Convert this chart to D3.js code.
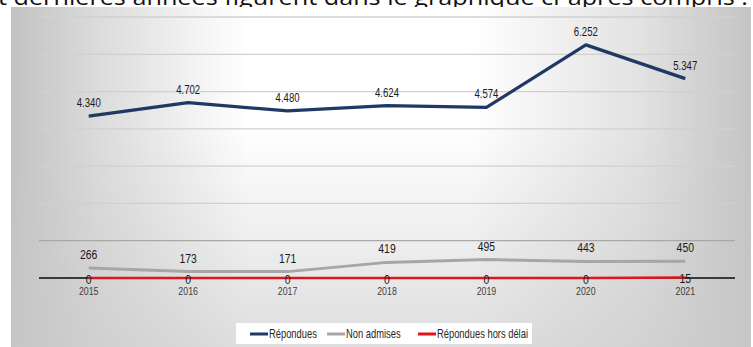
<!DOCTYPE html>
<html>
<head>
<meta charset="utf-8">
<script src="https://cdn.jsdelivr.net/npm/d3@7/dist/d3.min.js"></script>
<style>
  html, body { margin: 0; padding: 0; background: #fff; }
  svg { display: block; }
</style>
</head>
<body>
<svg id="chart" width="753" height="347"></svg>
<script>
// Demandes traitées par année
const years = ["2015", "2016", "2017", "2018", "2019", "2020", "2021"];
const repondues = [4340, 4702, 4480, 4624, 4574, 6252, 5347];
const nonAdmises = [266, 173, 171, 419, 495, 443, 450];
const horsDelai = [0, 0, 0, 0, 0, 0, 15];
const yTicks = [1000, 2000, 3000, 4000, 5000, 6000, 7000];
const seriesNames = ["Répondues", "Non admises", "Répondues hors délai"];
const seriesColors = ["#1f3864", "#a6a6a6", "#e0161b"];
const introText = "t dernières années figurent dans le graphique ci-après compris :";

const fmt = v => d3.format(",")(v).replace(/,/g, ".");
const font = "'Liberation Sans', Arial, sans-serif";
const squeeze = 0.8; // condensed look for chart labels

const svg = d3.select("#chart");

// Paragraph text above the chart panel
svg.append("text")
  .attr("x", -2).attr("y", 5)
  .attr("font-family", "'Open Sans', sans-serif")
  .attr("font-size", 21)
  .attr("fill", "#111")
  .attr("textLength", 750)
  .attr("lengthAdjust", "spacingAndGlyphs")
  .text(introText);

// Panel background: white centre, grey sides, greyer towards the bottom
const defs = svg.append("defs");
const hGrad = defs.append("linearGradient").attr("id", "bgH")
  .attr("x1", "0").attr("x2", "1").attr("y1", "0").attr("y2", "0");
[["0%", "#c2c2c2"], ["12%", "#dcdcdc"], ["32%", "#ffffff"], ["62%", "#ffffff"], ["85%", "#e2e2e2"], ["100%", "#c4c4c4"]]
  .forEach(([o, c]) => hGrad.append("stop").attr("offset", o).attr("stop-color", c));
const vGrad = defs.append("linearGradient").attr("id", "bgV")
  .attr("x1", "0").attr("x2", "0").attr("y1", "0").attr("y2", "1");
[["0%", "#c8c8c8", 0], ["35%", "#c8c8c8", 0], ["100%", "#c8c8c8", 0.6]]
  .forEach(([o, c, a]) => vGrad.append("stop").attr("offset", o).attr("stop-color", c).attr("stop-opacity", a));

svg.append("rect")
  .attr("x", 11).attr("y", 7)
  .attr("width", 740).attr("height", 340)
  .attr("fill", "url(#bgH)");
svg.append("rect")
  .attr("x", 11).attr("y", 7)
  .attr("width", 740).attr("height", 340)
  .attr("fill", "url(#bgV)");

const x = d3.scaleBand().domain(years).range([39, 735]);
const cx = d => x(d) + x.bandwidth() / 2;
const y = d3.scaleLinear().domain([0, 7000]).range([278, 17]);

// Horizontal gridlines
svg.append("g").selectAll("line")
  .data(yTicks)
  .join("line")
  .attr("x1", 39).attr("x2", 735)
  .attr("y1", d => y(d)).attr("y2", d => y(d))
  .attr("stroke", d => d === 1000 ? "#a8a8a8" : "#d0d0d0")
  .attr("stroke-width", 1.3);

// Category axis at zero
svg.append("line")
  .attr("x1", 39).attr("x2", 735)
  .attr("y1", y(0)).attr("y2", y(0))
  .attr("stroke", "#3a3a3a")
  .attr("stroke-width", 2);

svg.append("g").selectAll("text")
  .data(years)
  .join("text")
  .attr("transform", d => `translate(${cx(d)},295) scale(${squeeze},1)`)
  .attr("text-anchor", "middle")
  .attr("font-family", font)
  .attr("font-size", 11)
  .attr("fill", "#404040")
  .text(d => d);

const line = d3.line().x((d, i) => cx(years[i])).y(d => y(d));

const series = [repondues, nonAdmises, horsDelai];
const widths = [3.2, 3, 2.6];

// Lines, drawn back to front
[1, 2, 0].forEach(k => {
  svg.append("path")
    .datum(series[k])
    .attr("d", line)
    .attr("fill", "none")
    .attr("stroke", seriesColors[k])
    .attr("stroke-width", widths[k])
    .attr("stroke-linejoin", "round");
});

// Data labels
const labelOffsets = [-9, -9, 5.5];
series.forEach((vals, k) => {
  svg.append("g").selectAll("text")
    .data(vals)
    .join("text")
    .attr("transform", (d, i) => `translate(${cx(years[i])},${y(d) + labelOffsets[k]}) scale(${squeeze},1)`)
    .attr("text-anchor", "middle")
    .attr("font-family", font)
    .attr("font-size", k === 0 ? 12 : 13)
    .attr("fill", "#1a1a1a")
    .text(d => fmt(d));
});

// Legend
const legend = svg.append("g");
legend.append("rect")
  .attr("x", 236).attr("y", 323)
  .attr("width", 296).attr("height", 21)
  .attr("fill", "#ffffff");

const legendX = [250, 327, 418];
seriesNames.forEach((name, k) => {
  legend.append("line")
    .attr("x1", legendX[k]).attr("x2", legendX[k] + 18)
    .attr("y1", 334).attr("y2", 334)
    .attr("stroke", seriesColors[k])
    .attr("stroke-width", 3);
  legend.append("text")
    .attr("transform", `translate(${legendX[k] + 19},338) scale(0.78,1)`)
    .attr("font-family", font)
    .attr("font-size", 12)
    .attr("fill", "#262626")
    .text(name);
});
</script>
</body>
</html>
